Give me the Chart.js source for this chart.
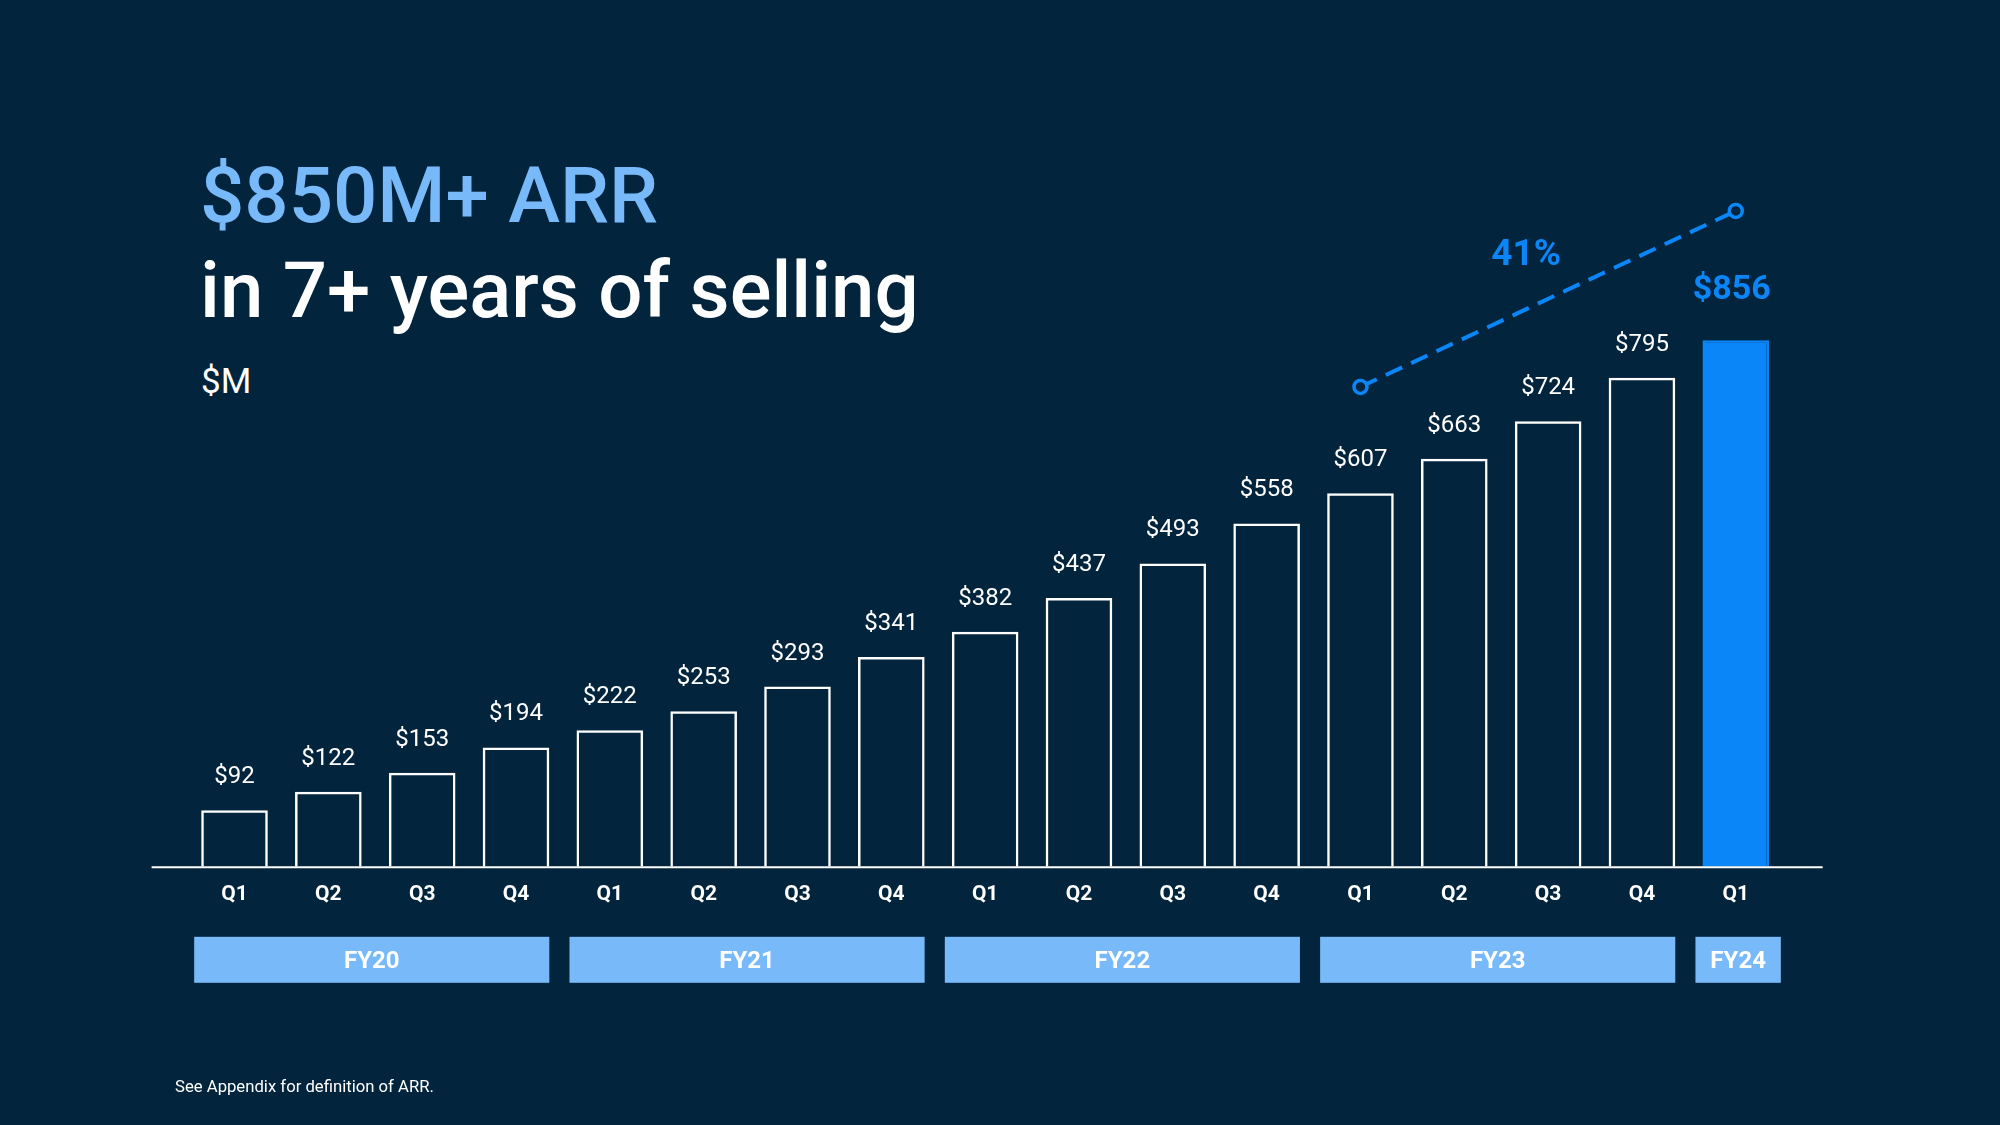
<!doctype html>
<html lang="en">
<head>
  <meta charset="utf-8">
  <title>ARR</title>
  <script src="https://cdn.jsdelivr.net/npm/chart.js"></script>
  <style>
    html, body { margin: 0; padding: 0; background: #02243d; }
    body { width: 2000px; height: 1125px; position: relative; overflow: hidden; font-family: Roboto, sans-serif; }
    #wrap { position: absolute; left: 0; top: 0; width: 2000px; height: 1125px; }
    .txt { position: absolute; white-space: nowrap; line-height: 1; }
    .title1 { left: 200px; top: 157px; font-size: 78px; font-weight: 500; color: #77b9f9; }
    .title2 { left: 200px; top: 252px; font-size: 78px; font-weight: 500; color: #ffffff; }
    .unit { left: 201px; top: 364px; font-size: 35px; color: #ffffff; }
    .note { left: 175px; top: 1079px; font-size: 16.7px; color: #ffffff; }
  </style>
</head>
<body>

<div class="txt title1">$850M+ ARR</div>
<div class="txt title2">in 7+ years of selling</div>
<div class="txt unit">$M</div>

<div id="wrap"><canvas id="myChart"></canvas></div>

<div class="txt note">See Appendix for definition of ARR.</div>

<script>
// datos
const quarters = ['Q1','Q2','Q3','Q4','Q1','Q2','Q3','Q4','Q1','Q2','Q3','Q4','Q1','Q2','Q3','Q4','Q1'];
const arr = [92, 122, 153, 194, 222, 253, 293, 341, 382, 437, 493, 558, 607, 663, 724, 795, 856];
const fiscalYears = ['FY20', 'FY21', 'FY22', 'FY23', 'FY24'];
const quartersPerYear = [4, 4, 4, 4, 1];
const growthLine = [null, null, null, null, null, null, null, null, null, null, null, null, 780, null, null, null, 1066];
const growthLabel = '41%';

const BG = '#02243d';
const BLUE = '#0a86f8';
const LIGHT = '#77b9f9';

const barColors = arr.map((v, i) => i === arr.length - 1 ? BLUE : 'rgba(0,0,0,0)');
const barBorders = arr.map((v, i) => i === arr.length - 1 ? BLUE : '#ffffff');

const extras = {
  id: 'extras',
  afterDatasetsDraw(chart) {
    const ctx = chart.ctx;
    const a = chart.chartArea;
    const x = chart.scales.x;
    ctx.save();

    // linea base
    ctx.strokeStyle = '#ffffff';
    ctx.lineWidth = 2;
    ctx.beginPath();
    ctx.moveTo(a.left - 36, a.bottom + 0.5);
    ctx.lineTo(a.right + 40, a.bottom + 0.5);
    ctx.stroke();

    // etiquetas de valor
    const bars = chart.getDatasetMeta(0).data;
    ctx.textAlign = 'center';
    ctx.textBaseline = 'alphabetic';
    bars.forEach((bar, i) => {
      if (i === bars.length - 1) {
        ctx.fillStyle = BLUE;
        ctx.font = 'bold 34px Roboto';
        ctx.fillText('$' + arr[i], bar.x - 4, bar.y - 41);
      } else {
        ctx.fillStyle = '#ffffff';
        ctx.font = '24px Roboto';
        ctx.fillText('$' + arr[i], bar.x, bar.y - 27);
      }
    });

    // 41%
    const pts = chart.getDatasetMeta(1).data.filter((p, i) => growthLine[i] !== null);
    const mx = (pts[0].x + pts[1].x) / 2;
    const my = (pts[0].y + pts[1].y) / 2;
    ctx.fillStyle = BLUE;
    ctx.font = 'bold 37px Roboto';
    ctx.fillText(growthLabel, mx - 22, my - 34);

    // cajas de año fiscal
    const pitch = x.getPixelForValue(1) - x.getPixelForValue(0);
    let start = 0;
    fiscalYears.forEach((fy, k) => {
      const end = start + quartersPerYear[k] - 1;
      const left = x.getPixelForValue(start) - 0.43 * pitch;
      const right = x.getPixelForValue(end) + (quartersPerYear[k] === 1 ? 0.48 : 0.355) * pitch;
      const top = a.bottom + 70;
      ctx.fillStyle = LIGHT;
      ctx.fillRect(left, top, right - left, 46);
      ctx.fillStyle = '#ffffff';
      ctx.font = 'bold 24px Roboto';
      ctx.fillText(fy, (left + right) / 2, top + 31.5);
      start = end + 1;
    });

    ctx.restore();
  }
};

const ctx = document.getElementById('myChart').getContext('2d');
const myChart = new Chart(ctx, {
  type: 'bar',
  data: {
    labels: quarters,
    datasets: [{
      data: arr,
      backgroundColor: barColors,
      borderColor: barBorders,
      borderWidth: 2.5,
      categoryPercentage: 1,
      barPercentage: 0.71,
      order: 2
    }, {
      type: 'line',
      data: growthLine,
      spanGaps: true,
      borderColor: BLUE,
      borderWidth: 4,
      borderDash: [18, 10],
      pointRadius: 6.5,
      pointBorderWidth: 3.5,
      pointBorderColor: BLUE,
      pointBackgroundColor: BG,
      clip: false,
      order: 1
    }]
  },
  options: {
    responsive: true,
    maintainAspectRatio: false,
    animation: false,
    layout: { padding: { left: 187.6, right: 217.3, top: 190, bottom: 203 } },
    plugins: { legend: { display: false }, tooltip: { enabled: false } },
    scales: {
      x: {
        grid: { display: false, drawTicks: false },
        border: { display: false },
        ticks: { color: '#ffffff', font: { family: 'Roboto', size: 21, weight: 'bold' }, padding: 15 }
      },
      y: { display: false, min: 0, max: 1100 }
    }
  },
  plugins: [extras]
});
</script>
</body>
</html>
